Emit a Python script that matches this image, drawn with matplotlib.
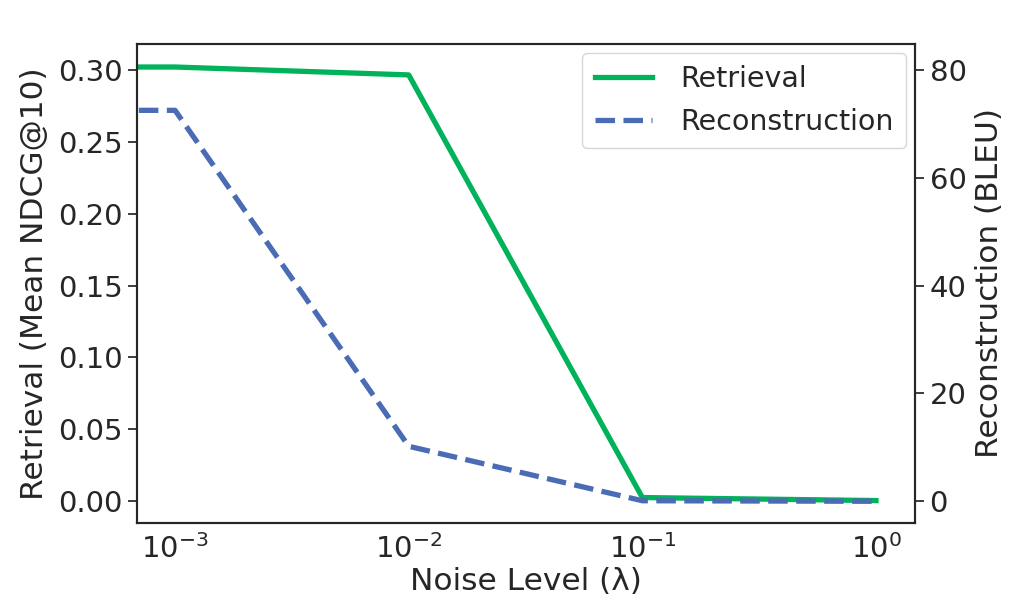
import matplotlib
matplotlib.use("Agg")
import matplotlib.pyplot as plt
import numpy as np

noise_levels = [0.0, 1e-3, 1e-2, 1e-1, 1.0]
retrieval_ndcg = [0.302, 0.302, 0.2965, 0.0026, 0.0005]
reconstruction_bleu = [72.5, 72.5, 10.2, 0.1, 0.0]
xtick_values = [1e-3, 1e-2, 1e-1, 1.0]

text_color = "#262626"
plt.rcParams.update({
    "font.family": ["DejaVu Sans"],
    "font.size": 21,
    "text.color": text_color,
    "axes.labelcolor": text_color,
    "xtick.color": text_color,
    "ytick.color": text_color,
    "axes.edgecolor": text_color,
})

fig = plt.figure(figsize=(10.26, 6.16), dpi=100)
ax1 = fig.add_axes([137/1026, 1-523/616, (915-137)/1026, (523-44)/616])
ax2 = ax1.twinx()

green = "#00B25A"
blue = "#4A6CB4"

l1, = ax1.plot(noise_levels, retrieval_ndcg, color=green, lw=3.8, label="Retrieval")
l2, = ax2.plot(noise_levels, reconstruction_bleu, color=blue, lw=3.8, ls="--",
               label="Reconstruction")

ax1.set_xscale("log")
ax1.set_xlim(10**-3.163, 10**0.167)
ax1.set_xticks(xtick_values)
ax1.xaxis.set_minor_locator(matplotlib.ticker.NullLocator())

ax1.set_ylim(-0.0151, 0.318)
ax1.set_yticks([0.0, 0.05, 0.10, 0.15, 0.20, 0.25, 0.30])
ax1.yaxis.set_major_formatter(matplotlib.ticker.FormatStrFormatter("%.2f"))
lo, hi = ax1.get_ylim()
ax2.set_ylim(lo * 800 / 3, hi * 800 / 3)
ax2.set_yticks([0, 20, 40, 60, 80])

for ax in (ax1, ax2):
    ax.tick_params(axis="x", length=0, pad=8, labelsize=21)
    ax.tick_params(axis="y", length=6.5, width=1.25, labelsize=21, pad=4)
    for s in ax.spines.values():
        s.set_linewidth(1.5)

ax1.set_xlabel("Noise Level (λ)", fontsize=22.5, labelpad=2)
ax1.set_ylabel("Retrieval (Mean NDCG@10)", fontsize=22.5, labelpad=6)
ax2.set_ylabel("Reconstruction (BLEU)", fontsize=22.5, labelpad=6)

leg = ax2.legend(handles=[l1, l2], loc="upper right", fontsize=20.5, frameon=True,
                 fancybox=True, handlelength=2.0, borderpad=0.45, labelspacing=0.5,
                 handletextpad=1.0, borderaxespad=0.3)
leg.get_frame().set_edgecolor("#cccccc")
leg.get_frame().set_linewidth(1.0)

fig.savefig("out.png", dpi=100)
